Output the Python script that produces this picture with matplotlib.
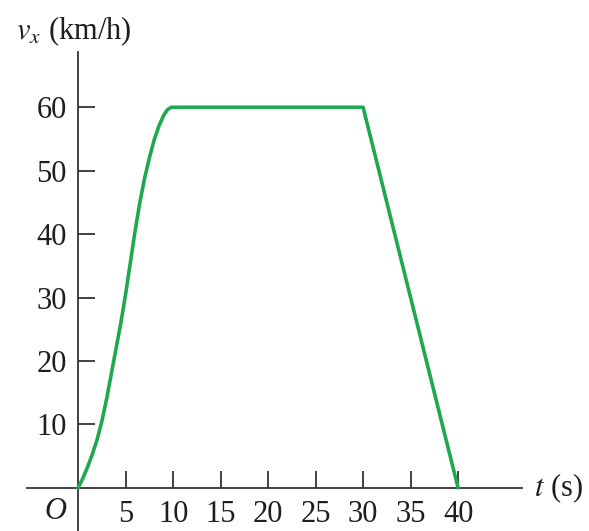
import matplotlib
matplotlib.use("Agg")
import matplotlib.pyplot as plt

plt.rcParams["font.family"] = ["Liberation Serif", "DejaVu Serif"]
plt.rcParams["mathtext.fontset"] = "stix"

# velocity profile
t_s = [0, 0.5, 1, 1.5, 2, 2.5, 3, 3.5, 4, 4.5, 5, 5.5, 6, 6.5, 7, 7.5, 8, 8.5, 9, 9.4, 9.8, 30, 40]
v_kmh = [0, 1.5, 3.3, 5.3, 7.6, 10.5, 14, 18, 22, 26, 30.5, 35.5, 40.5, 45, 48.8, 52, 54.8, 57, 58.7, 59.6, 60, 60, 0]

x_ticks = [5, 10, 15, 20, 25, 30, 35, 40]
y_ticks = [10, 20, 30, 40, 50, 60]

GREEN = "#1fa84f"
AXIS = "#333333"
TEXT = "#1e1e1e"
FS = 22

fig = plt.figure(figsize=(5.89, 5.31), dpi=100)
ax = fig.add_axes([0.0458, 0.0, 0.84, 0.902])

ax.plot(t_s, v_kmh, color=GREEN, lw=2.6, solid_joinstyle="round", solid_capstyle="round", zorder=3)

ax.set_xlim(-5.38, 46.7)
ax.set_ylim(-6.8, 68.7)

for side in ("top", "right"):
    ax.spines[side].set_visible(False)
for side in ("left", "bottom"):
    ax.spines[side].set_position(("data", 0))
    ax.spines[side].set_color(AXIS)
    ax.spines[side].set_linewidth(1.3)

ax.set_xticks(x_ticks)
ax.set_yticks(y_ticks)
ax.tick_params(axis="both", direction="in", length=12, width=1.3, color=AXIS,
               labelsize=FS, labelcolor=TEXT)
ax.tick_params(axis="x", pad=9)
ax.tick_params(axis="y", pad=8)

ax.text(-1.2, -1.5, "O", fontsize=FS, style="italic", ha="right", va="top", color=TEXT)
ax.text(48.0, 0, "$t$ (s)", fontsize=FS, ha="left", va="center", color=TEXT)
ax.text(-6.5, 72.0, "$v_x$ (km/h)", fontsize=FS, ha="left", va="center", color=TEXT,
        clip_on=False)

fig.savefig("out.png", dpi=100)
